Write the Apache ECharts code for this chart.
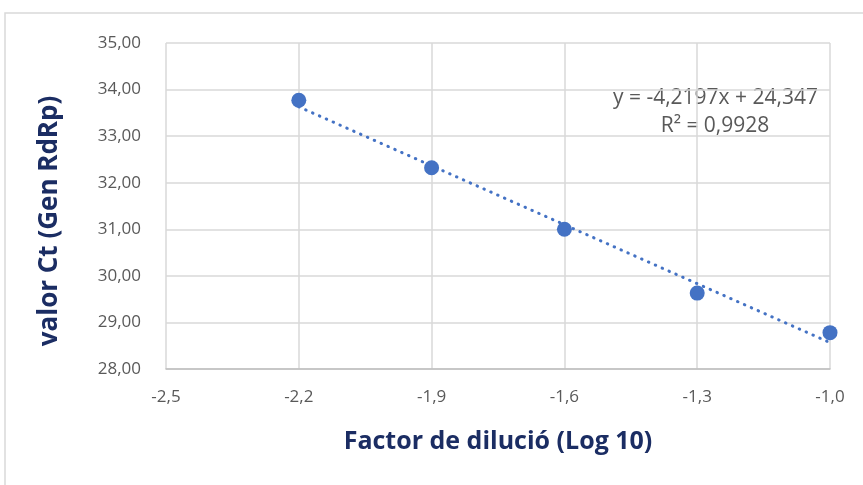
<!DOCTYPE html>
<html>
<head>
<meta charset="utf-8">
<script src="https://cdn.jsdelivr.net/npm/echarts@6/dist/echarts.min.js"></script>
<style>
  html, body { margin: 0; padding: 0; background: #fff; }
  #chart { width: 863px; height: 485px; }
</style>
</head>
<body>
<div id="chart"></div>
<script>
// dades llegides del gràfic
var dilucio = [-2.2, -1.9, -1.6, -1.3, -1.0];
var valorCt = [33.77, 32.32, 31.0, 29.63, 28.78];
// línia de tendència (equació del gràfic)
var trendSlope = -4.2197;
var trendIntercept = 24.347;
var eqLabels = ['y = -4,2197x + 24,347', 'R² = 0,9928'];

var FONT = '"Open Sans", sans-serif';
var BLUE = '#4472C4';
var NAVY = '#1B2D63';

function comma(v, d) {
    return v.toFixed(d).replace('.', ',');
}

var points = dilucio.map(function (x, i) { return [x, valorCt[i]]; });
var xMinData = Math.min.apply(null, dilucio);
var xMaxData = Math.max.apply(null, dilucio);
var trend = [
    [xMinData, trendSlope * xMinData + trendIntercept],
    [xMaxData, trendSlope * xMaxData + trendIntercept]
];

var chart = echarts.init(document.getElementById('chart'));
chart.setOption({
    animation: false,
    grid: { left: 166, right: 33, top: 43, bottom: 116 },
    graphic: [
        {
            type: 'rect',
            shape: { x: 5, y: 13, width: 900, height: 500 },
            style: { fill: 'none', stroke: '#d9d9d9', lineWidth: 1.5 },
            silent: true
        },
        {
            type: 'text',
            x: 818, y: 98,
            style: { text: eqLabels[0], font: '21px ' + FONT, fill: '#595959', align: 'right', verticalAlign: 'middle' }
        },
        {
            type: 'text',
            x: 715, y: 126,
            style: { text: eqLabels[1], font: '21px ' + FONT, fill: '#595959', align: 'center', verticalAlign: 'middle' }
        },
        {
            type: 'text',
            x: 50, y: 221,
            rotation: Math.PI / 2,
            style: { text: 'valor Ct (Gen RdRp)', font: 'bold 26px ' + FONT, fill: NAVY, align: 'center', verticalAlign: 'middle' }
        }
    ],
    xAxis: {
        type: 'value',
        min: -2.5,
        max: -1.0,
        interval: 0.3,
        name: 'Factor de dilució (Log 10)',
        nameLocation: 'middle',
        nameGap: 60,
        nameTextStyle: { fontFamily: FONT, fontSize: 25, fontWeight: 'bold', color: NAVY },
        axisLine: { show: true, lineStyle: { color: '#bfbfbf', width: 1.5 } },
        axisTick: { show: false },
        axisLabel: {
            margin: 20,
            fontFamily: FONT, fontSize: 17, color: '#595959',
            formatter: function (v) { return comma(v, 1); }
        },
        splitLine: { show: true, lineStyle: { color: '#d9d9d9', width: 1.5 } }
    },
    yAxis: {
        type: 'value',
        min: 28,
        max: 35,
        interval: 1,
        axisLine: { show: false },
        axisTick: { show: false },
        axisLabel: {
            margin: 25,
            fontFamily: FONT, fontSize: 17, color: '#595959',
            formatter: function (v) { return comma(v, 2); }
        },
        splitLine: { show: true, lineStyle: { color: '#d9d9d9', width: 1.5 } }
    },
    series: [
        {
            type: 'line',
            data: trend,
            symbol: 'none',
            silent: true,
            lineStyle: { color: BLUE, width: 3, type: [0.5, 7], cap: 'round' },
            z: 2
        },
        {
            type: 'scatter',
            data: points,
            symbol: 'circle',
            symbolSize: 15,
            itemStyle: { color: BLUE, opacity: 1 },
            z: 3
        }
    ]
});
</script>
</body>
</html>
